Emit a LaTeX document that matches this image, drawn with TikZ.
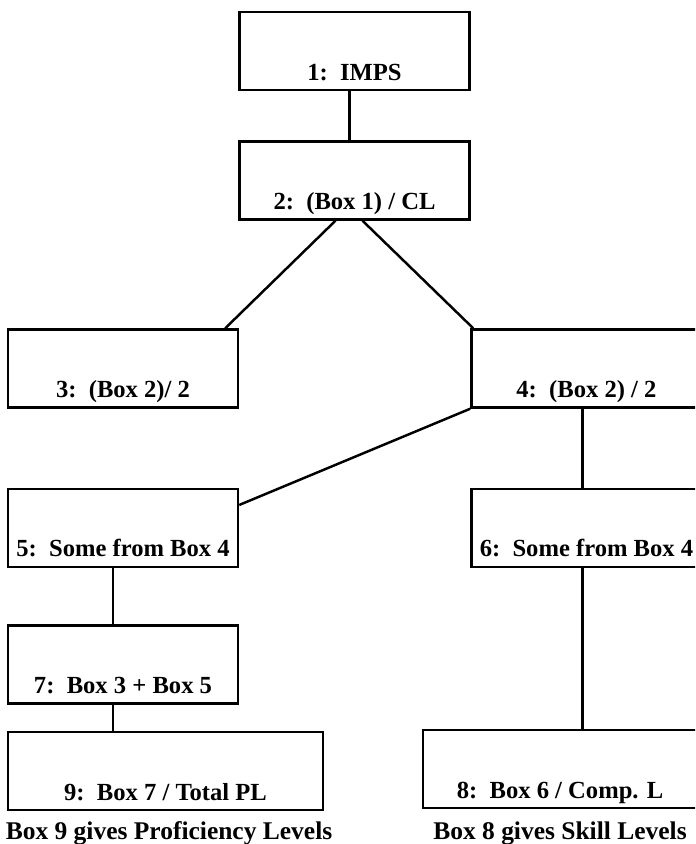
\documentclass[tikz,border=0pt]{standalone}
\usepackage{fontspec}
\setmainfont{Liberation Serif}
\usepackage{tikz}
\usetikzlibrary{positioning,calc}

\begin{document}
\begin{tikzpicture}[-, semithick, node distance=1cm]
	\tikzstyle{box}=[draw=black,line width=1.4pt,rectangle,inner sep=0pt,minimum width=4.6cm,
		text height=1.36cm,text depth=0.2cm,font=\bfseries\fontsize{14}{16}\selectfont]
	\tikzstyle{note}=[inner sep=0pt,font=\bfseries\fontsize{14.5}{16}\selectfont]
	\tikzstyle{link}=[draw=black,line width=1.4pt]
	\useasboundingbox (0,0) rectangle (13.9,-16.88);
	\clip (0,0) rectangle (13.9,-16.88);
	% the boxes
	\node[box]    (b1)  at (7.09,-1.02)        {1:\ \ IMPS};
	\node[box]    (b2)  [below=0.98cm of b1]   {2:\ \ (Box 1) / CL};
	\node[box]    (b3)  at (2.46,-7.37)        {3:\ \ (Box 2)/ 2};
	\node[box]    (b4)  [right=4.62cm of b3]   {4:\ \ (Box 2) / 2};
	\node[box]    (b5)  [below=1.58cm of b3]   {5:\ \ Some from Box 4};
	\node[box]    (b6)  [below=1.58cm of b4]   {6:\ \ Some from Box 4};
	\node[box]    (b7)  [below=1.12cm of b5]   {7:\ \ Box 3 + Box 5};
	\node[box,minimum width=6.3cm]  (b9) at (3.31,-15.42) {9:\ \ Box 7 / Total PL\hspace{0.66cm}};
	\node[box,minimum width=5.48cm] (b8) at (11.2,-15.38) {8:\ \ Box 6 / Comp. L};
	% what the last boxes give
	\node[note]   (c9)  [below=0.2cm of b9,xshift=0.07cm] {Box 9 gives Proficiency Levels};
	\node[note]   (c8)  [below=0.24cm of b8]   {Box 8 gives Skill Levels};
	\path[link]
	([xshift=-0.1cm]b1.south)  edge  ([xshift=-0.1cm]b2.north)
	([xshift=-0.38cm]b2.south) edge  ([xshift=-0.28cm]b3.north east)
	([xshift=0.16cm]b2.south)  edge  ([xshift=0.06cm]b4.north west)
	(b4.south west)            edge  ([yshift=0.46cm]b5.east)
	([xshift=-0.08cm]b4.south) edge  ([xshift=-0.08cm]b6.north)
	([xshift=-0.2cm]b5.south)  edge  ([xshift=-0.2cm]b7.north)
	([xshift=-0.2cm]b7.south)  edge  ([xshift=-0.2cm]b7.south |- b9.north)
	([xshift=-0.08cm]b6.south) edge  ([xshift=-0.08cm]b6.south |- b8.north);
\end{tikzpicture}
\end{document}
